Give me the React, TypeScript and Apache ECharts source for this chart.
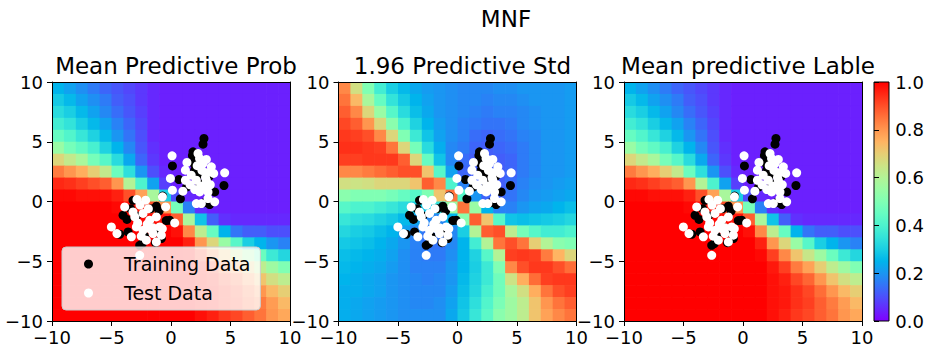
import React, { useEffect, useRef } from "react";
import * as echarts from "echarts";

// cell centres of the 20x20 field grids (columns left->right, rows top->bottom)
const colCenters = [-9.5, -8.5, -7.5, -6.5, -5.5, -4.5, -3.5, -2.5, -1.5, -0.5, 0.5, 1.5, 2.5, 3.5, 4.5, 5.5, 6.5, 7.5, 8.5, 9.5];
const rowCenters = [9.5, 8.5, 7.5, 6.5, 5.5, 4.5, 3.5, 2.5, 1.5, 0.5, -0.5, -1.5, -2.5, -3.5, -4.5, -5.5, -6.5, -7.5, -8.5, -9.5];

const meanProbGrid = [
  [0.25, 0.22, 0.19, 0.16, 0.13, 0.11, 0.09, 0.07, 0.05, 0.04, 0.04, 0.04, 0.04, 0.04, 0.04, 0.04, 0.04, 0.04, 0.04, 0.04],
  [0.29, 0.26, 0.22, 0.19, 0.16, 0.12, 0.10, 0.07, 0.05, 0.04, 0.04, 0.04, 0.04, 0.04, 0.04, 0.04, 0.04, 0.04, 0.04, 0.04],
  [0.33, 0.30, 0.26, 0.22, 0.18, 0.14, 0.11, 0.08, 0.05, 0.04, 0.04, 0.04, 0.04, 0.04, 0.04, 0.04, 0.04, 0.04, 0.04, 0.04],
  [0.38, 0.35, 0.30, 0.26, 0.22, 0.17, 0.13, 0.09, 0.05, 0.04, 0.04, 0.04, 0.04, 0.04, 0.04, 0.04, 0.04, 0.04, 0.04, 0.04],
  [0.45, 0.41, 0.36, 0.31, 0.26, 0.20, 0.15, 0.10, 0.05, 0.04, 0.04, 0.04, 0.04, 0.04, 0.04, 0.04, 0.04, 0.04, 0.04, 0.04],
  [0.55, 0.48, 0.44, 0.39, 0.31, 0.25, 0.18, 0.11, 0.06, 0.04, 0.04, 0.04, 0.04, 0.04, 0.04, 0.04, 0.04, 0.04, 0.04, 0.04],
  [0.68, 0.63, 0.58, 0.48, 0.42, 0.33, 0.23, 0.13, 0.07, 0.04, 0.04, 0.04, 0.04, 0.04, 0.04, 0.04, 0.04, 0.04, 0.04, 0.04],
  [0.84, 0.80, 0.76, 0.70, 0.63, 0.46, 0.34, 0.20, 0.10, 0.05, 0.04, 0.04, 0.04, 0.04, 0.04, 0.04, 0.04, 0.04, 0.04, 0.04],
  [0.95, 0.94, 0.92, 0.90, 0.88, 0.80, 0.60, 0.40, 0.22, 0.08, 0.04, 0.04, 0.04, 0.04, 0.04, 0.04, 0.04, 0.04, 0.04, 0.04],
  [0.99, 0.99, 0.98, 0.98, 0.98, 0.96, 0.90, 0.78, 0.58, 0.30, 0.10, 0.05, 0.04, 0.04, 0.04, 0.04, 0.04, 0.04, 0.04, 0.04],
  [1.00, 1.00, 1.00, 1.00, 1.00, 0.99, 0.98, 0.96, 0.90, 0.80, 0.48, 0.17, 0.06, 0.04, 0.04, 0.04, 0.04, 0.04, 0.04, 0.04],
  [1.00, 1.00, 1.00, 1.00, 1.00, 1.00, 1.00, 0.99, 0.98, 0.97, 0.88, 0.58, 0.28, 0.12, 0.06, 0.05, 0.05, 0.05, 0.05, 0.05],
  [1.00, 1.00, 1.00, 1.00, 1.00, 1.00, 1.00, 1.00, 1.00, 1.00, 0.98, 0.82, 0.62, 0.45, 0.25, 0.15, 0.12, 0.12, 0.10, 0.10],
  [1.00, 1.00, 1.00, 1.00, 1.00, 1.00, 1.00, 1.00, 1.00, 1.00, 1.00, 0.96, 0.80, 0.68, 0.55, 0.42, 0.30, 0.25, 0.20, 0.17],
  [1.00, 1.00, 1.00, 1.00, 1.00, 1.00, 1.00, 1.00, 1.00, 1.00, 1.00, 0.99, 0.92, 0.82, 0.72, 0.64, 0.56, 0.46, 0.37, 0.32],
  [1.00, 1.00, 1.00, 1.00, 1.00, 1.00, 1.00, 1.00, 1.00, 1.00, 1.00, 1.00, 0.97, 0.92, 0.84, 0.78, 0.70, 0.62, 0.56, 0.50],
  [1.00, 1.00, 1.00, 1.00, 1.00, 1.00, 1.00, 1.00, 1.00, 1.00, 1.00, 1.00, 0.98, 0.96, 0.91, 0.87, 0.80, 0.72, 0.66, 0.62],
  [1.00, 1.00, 1.00, 1.00, 1.00, 1.00, 1.00, 1.00, 1.00, 1.00, 1.00, 1.00, 0.98, 0.97, 0.94, 0.91, 0.86, 0.80, 0.74, 0.70],
  [1.00, 1.00, 1.00, 1.00, 1.00, 1.00, 1.00, 1.00, 1.00, 1.00, 1.00, 1.00, 0.98, 0.97, 0.94, 0.92, 0.88, 0.84, 0.79, 0.74],
  [1.00, 1.00, 1.00, 1.00, 1.00, 1.00, 1.00, 1.00, 1.00, 1.00, 1.00, 1.00, 0.98, 0.96, 0.93, 0.91, 0.88, 0.85, 0.80, 0.77],
];

const stdGrid = [
  [0.82, 0.66, 0.50, 0.38, 0.30, 0.26, 0.23, 0.21, 0.20, 0.19, 0.18, 0.18, 0.18, 0.19, 0.19, 0.20, 0.20, 0.20, 0.20, 0.21],
  [0.85, 0.74, 0.58, 0.45, 0.35, 0.29, 0.25, 0.22, 0.20, 0.19, 0.18, 0.18, 0.17, 0.18, 0.18, 0.19, 0.20, 0.20, 0.20, 0.21],
  [0.88, 0.82, 0.68, 0.55, 0.42, 0.33, 0.27, 0.23, 0.20, 0.19, 0.18, 0.17, 0.16, 0.17, 0.17, 0.18, 0.19, 0.20, 0.20, 0.21],
  [0.91, 0.88, 0.80, 0.68, 0.52, 0.40, 0.31, 0.25, 0.21, 0.19, 0.17, 0.16, 0.15, 0.15, 0.16, 0.18, 0.19, 0.20, 0.20, 0.21],
  [0.93, 0.92, 0.90, 0.82, 0.68, 0.50, 0.37, 0.28, 0.22, 0.19, 0.17, 0.14, 0.13, 0.14, 0.15, 0.17, 0.18, 0.20, 0.20, 0.21],
  [0.94, 0.94, 0.93, 0.92, 0.85, 0.68, 0.48, 0.33, 0.24, 0.18, 0.16, 0.13, 0.12, 0.13, 0.14, 0.16, 0.18, 0.20, 0.20, 0.21],
  [0.92, 0.92, 0.93, 0.93, 0.93, 0.88, 0.68, 0.45, 0.28, 0.18, 0.14, 0.12, 0.12, 0.12, 0.13, 0.16, 0.18, 0.20, 0.20, 0.21],
  [0.82, 0.82, 0.84, 0.86, 0.88, 0.90, 0.90, 0.72, 0.42, 0.22, 0.13, 0.12, 0.12, 0.12, 0.13, 0.16, 0.18, 0.20, 0.20, 0.21],
  [0.66, 0.65, 0.66, 0.68, 0.68, 0.68, 0.72, 0.88, 0.82, 0.40, 0.17, 0.12, 0.12, 0.12, 0.14, 0.17, 0.19, 0.20, 0.21, 0.22],
  [0.52, 0.50, 0.50, 0.50, 0.48, 0.45, 0.42, 0.50, 0.72, 0.85, 0.42, 0.20, 0.13, 0.13, 0.15, 0.18, 0.20, 0.21, 0.22, 0.23],
  [0.42, 0.40, 0.40, 0.38, 0.36, 0.33, 0.30, 0.28, 0.35, 0.55, 0.85, 0.55, 0.25, 0.17, 0.17, 0.20, 0.22, 0.23, 0.25, 0.27],
  [0.36, 0.34, 0.33, 0.31, 0.29, 0.26, 0.22, 0.18, 0.18, 0.25, 0.52, 0.88, 0.72, 0.42, 0.28, 0.27, 0.28, 0.29, 0.30, 0.32],
  [0.32, 0.30, 0.29, 0.27, 0.25, 0.22, 0.18, 0.15, 0.15, 0.18, 0.30, 0.60, 0.88, 0.90, 0.62, 0.48, 0.42, 0.38, 0.38, 0.40],
  [0.29, 0.28, 0.27, 0.25, 0.23, 0.20, 0.17, 0.15, 0.15, 0.18, 0.25, 0.38, 0.60, 0.85, 0.90, 0.85, 0.70, 0.60, 0.52, 0.50],
  [0.27, 0.26, 0.25, 0.24, 0.22, 0.19, 0.17, 0.16, 0.16, 0.19, 0.25, 0.31, 0.42, 0.60, 0.92, 0.93, 0.92, 0.84, 0.75, 0.68],
  [0.26, 0.25, 0.24, 0.23, 0.21, 0.19, 0.17, 0.17, 0.17, 0.20, 0.25, 0.30, 0.37, 0.50, 0.82, 0.90, 0.93, 0.93, 0.90, 0.86],
  [0.25, 0.24, 0.23, 0.22, 0.20, 0.19, 0.18, 0.17, 0.18, 0.20, 0.26, 0.31, 0.37, 0.47, 0.65, 0.76, 0.86, 0.92, 0.93, 0.93],
  [0.24, 0.24, 0.23, 0.22, 0.20, 0.19, 0.18, 0.18, 0.18, 0.21, 0.27, 0.32, 0.39, 0.47, 0.58, 0.66, 0.76, 0.85, 0.90, 0.92],
  [0.24, 0.23, 0.22, 0.21, 0.20, 0.19, 0.18, 0.18, 0.19, 0.22, 0.28, 0.34, 0.41, 0.49, 0.56, 0.62, 0.72, 0.80, 0.85, 0.88],
  [0.24, 0.23, 0.22, 0.21, 0.20, 0.19, 0.19, 0.19, 0.19, 0.23, 0.29, 0.36, 0.43, 0.52, 0.56, 0.62, 0.72, 0.78, 0.82, 0.85],
];

// Mean predictive label (panel 3 reads the same as panel 1)
const meanLabelGrid = meanProbGrid;

const trainingPoints = [
  [2.77, 5.28], [2.69, 4.8], [1.85, 4.16], [1.8, 3.85], [0.12, 2.98], [0.67, 1.84], [0.79, 0.22], [4.45, 1.34],
  [3.67, 0.8], [3.25, -0.25], [1.99, 2.62], [2.3, 2.3], [1.3, 1.2], [2.6, 3.3], [2.4, 1.5], [3.0, 1.0],
  [2.8, -0.1], [2.2, 2.0], [1.9, 3.2], [3.2, 2.1],
  [-4.03, -1.15], [-3.7, -1.5], [-4.31, -2.74], [-1.23, -0.39], [-1.0, -0.8], [-0.11, -1.57], [-0.4, -1.6],
  [-2.41, -3.52], [-0.81, -3.1], [-3.61, -2.55], [-1.7, -0.6], [-3.19, 0.1], [-2.63, -3.67], [-1.3, -3.45],
  [-0.7, 0.45], [-3.4, -0.6], [-2.2, -2.9], [-1.0, -2.6], [-2.9, -1.2], [-1.8, -2.0],
];

const testPoints = [
  [0.09, 3.82], [-0.05, 1.93], [0.12, 0.95], [1.0, 0.86], [1.34, 3.27], [1.21, 2.62], [1.21, 1.78], [2.27, 4.02],
  [2.4, 3.6], [2.97, 3.52], [3.39, 2.9], [3.59, 2.35], [4.51, 2.4], [2.69, 3.18], [2.13, 1.78], [2.97, 1.78],
  [2.83, 1.22], [2.41, 0.8], [3.11, 0.8], [2.13, -0.17], [2.55, -0.17], [3.67, -0.03], [3.11, 0.25], [1.7, 2.2],
  [2.6, 2.6], [3.0, 2.4], [1.6, 1.4], [2.5, 1.3], [2.2, 3.0], [2.9, 2.0], [3.3, 1.4], [2.0, 1.0],
  [-5.01, -2.13], [-4.54, -2.68], [-3.89, -0.45], [-2.86, 0.17], [-2.13, 0.11], [-0.72, 0.39], [-0.45, -0.45],
  [0.31, -1.79], [-2.63, -4.5], [-3.33, -2.96], [-3.04, -1.29], [-2.35, -1.0], [-1.79, -1.57], [-1.23, -1.29],
  [-0.95, -2.13], [-1.51, -2.68], [-2.07, -3.24], [-1.23, -3.38], [-2.91, -2.13], [-2.35, -2.41], [-1.79, -2.27],
  [-3.19, -0.87], [-0.81, -2.82], [-0.73, -2.27], [-2.6, -0.3], [-2.8, -1.8], [-2.0, -1.9], [-1.9, -0.6],
  [-2.5, -2.9], [-1.5, -2.2],
];

const panelTitles = ["Mean Predictive Prob", "1.96 Predictive Std", "Mean predictive Lable"];
const suptitle = "MNF";

// matplotlib "rainbow" colormap sampled every 0.05
const rainbow = [
  "#8000ff", "#6628fe", "#4d4ffc", "#3374f8", "#1a96f2", "#00b4ec", "#1acee3", "#33e3da", "#4df3ce", "#66fcc2",
  "#80ffb4", "#99fca5", "#b3f396", "#cce385", "#e6ce74", "#ffb462", "#ff964f", "#ff743b", "#ff4f28", "#ff2814", "#ff0000",
];

const FONT = "DejaVu Sans";
const TICK_FONT = 18;
const TOP = 82;
const W = 238;
const H = 239;
const panelLefts = [52, 338.5, 624];

const fmt = (v: number) => (v < 0 ? "\u2212" + Math.abs(v) : String(v));

function cells(grid: number[][]) {
  const out: number[][] = [];
  grid.forEach((row, i) => row.forEach((v, j) => out.push([colCenters[j], rowCenters[i], v])));
  return out;
}

function buildOption() {
  const grids: any[] = [];
  const xAxes: any[] = [];
  const yAxes: any[] = [];
  const series: any[] = [];
  const fieldSeries: number[] = [];
  const fields = [meanProbGrid, stdGrid, meanLabelGrid];

  panelLefts.forEach((left, i) => {
    grids.push({ left, top: TOP, width: W, height: H, containLabel: false });
    const base = {
      type: "value", min: -10, max: 10, interval: 5, gridIndex: i, z: 10,
      splitLine: { show: false },
      axisLine: { show: true, onZero: false, lineStyle: { color: "#000", width: 1 } },
    };
    xAxes.push({
      ...base, position: "bottom",
      axisTick: { show: true, inside: false, length: 5, lineStyle: { color: "#000", width: 1 } },
      axisLabel: { show: true, margin: 7, color: "#000", fontSize: TICK_FONT, fontFamily: FONT, formatter: fmt, showMinLabel: true, showMaxLabel: true },
    });
    xAxes.push({ ...base, position: "top", axisTick: { show: false }, axisLabel: { show: false } });
    yAxes.push({
      ...base, position: "left",
      axisTick: { show: true, inside: false, length: 5, lineStyle: { color: "#000", width: 1 } },
      axisLabel: { show: true, margin: 9, color: "#000", fontSize: TICK_FONT, fontFamily: FONT, formatter: fmt, showMinLabel: true, showMaxLabel: true },
    });
    yAxes.push({ ...base, position: "right", axisTick: { show: false }, axisLabel: { show: false } });

    fieldSeries.push(series.length);
    series.push({
      type: "custom",
      xAxisIndex: 2 * i,
      yAxisIndex: 2 * i,
      clip: true,
      z: 1,
      silent: true,
      dimensions: ["x", "y", "v"],
      encode: { x: 0, y: 1 },
      data: cells(fields[i]),
      renderItem: (_p: any, api: any) => {
        const x = api.value(0);
        const y = api.value(1);
        const p0 = api.coord([x - 0.5, y + 0.5]);
        const p1 = api.coord([x + 0.5, y - 0.5]);
        return {
          type: "rect",
          shape: { x: p0[0], y: p0[1], width: p1[0] - p0[0] + 0.7, height: p1[1] - p0[1] + 0.7 },
          style: { fill: api.visual("color"), stroke: null },
        };
      },
    });
    series.push({
      type: "scatter", name: "Training Data", xAxisIndex: 2 * i, yAxisIndex: 2 * i,
      data: trainingPoints, symbol: "circle", symbolSize: 9, z: 3,
      itemStyle: { color: "#000000", opacity: 1 },
    });
    series.push({
      type: "scatter", name: "Test Data", xAxisIndex: 2 * i, yAxisIndex: 2 * i,
      data: testPoints, symbol: "circle", symbolSize: 9, z: 4,
      itemStyle: { color: "#ffffff", opacity: 1 },
    });
  });

  // colorbar axis
  const cbLeft = 874;
  const cbWidth = 15;
  grids.push({ left: cbLeft, top: TOP, width: cbWidth, height: H });
  xAxes.push({ type: "value", gridIndex: 3, show: false, min: 0, max: 1 });
  yAxes.push({
    type: "value", gridIndex: 3, position: "right", min: 0, max: 1, interval: 0.2, z: 10,
    splitLine: { show: false },
    axisLine: { show: false },
    axisTick: { show: true, inside: false, length: 5, lineStyle: { color: "#000", width: 1 } },
    axisLabel: { show: true, margin: 8, color: "#000", fontSize: TICK_FONT, fontFamily: FONT, formatter: (v: number) => v.toFixed(1) },
  });

  const stops = rainbow.map((c, k) => ({ offset: k / (rainbow.length - 1), color: c }));

  return {
    animation: false,
    backgroundColor: "#ffffff",
    textStyle: { fontFamily: FONT },
    title: [
      { text: suptitle, left: 501, top: 2, textAlign: "center", textStyle: { fontFamily: FONT, fontSize: 23, fontWeight: "normal", color: "#000" } },
      ...panelTitles.map((t, i) => ({
        text: t, left: panelLefts[i] + W / 2, top: 49, textAlign: "center",
        textStyle: { fontFamily: FONT, fontSize: 23, fontWeight: "normal", color: "#000" },
      })),
    ],
    legend: {
      left: 62, top: 247, orient: "vertical",
      data: [{ name: "Training Data", icon: "circle" }, { name: "Test Data", icon: "circle" }],
      itemWidth: 9, itemHeight: 9, itemGap: 9,
      padding: [7, 10, 7, 22],
      backgroundColor: "rgba(255,255,255,0.8)",
      borderColor: "#cccccc", borderWidth: 1, borderRadius: 4,
      selectedMode: false,
      textStyle: { fontFamily: FONT, fontSize: 19, color: "#000", lineHeight: 20, padding: [0, 0, 0, 26] },
      z: 20,
    },
    visualMap: {
      type: "continuous", show: false, min: 0, max: 1, dimension: 2,
      seriesIndex: fieldSeries,
      inRange: { color: rainbow },
    },
    grid: grids,
    xAxis: xAxes,
    yAxis: yAxes,
    series,
    graphic: [
      {
        type: "rect", z: 5,
        shape: { x: cbLeft, y: TOP, width: cbWidth, height: H },
        style: {
          fill: { type: "linear", x: 0, y: 1, x2: 0, y2: 0, colorStops: stops, global: false },
          stroke: "#000", lineWidth: 1,
        },
      },
    ],
  };
}

export default function App() {
  const ref = useRef<HTMLDivElement>(null);
  useEffect(() => {
    if (!ref.current) return;
    const chart = echarts.init(ref.current, null, { renderer: "svg" });
    chart.setOption(buildOption() as any);
    return () => chart.dispose();
  }, []);
  return (
    <div
      ref={ref}
      style={{ position: "absolute", left: 0, top: 0, width: 927, height: 346, background: "#fff" }}
    />
  );
}
